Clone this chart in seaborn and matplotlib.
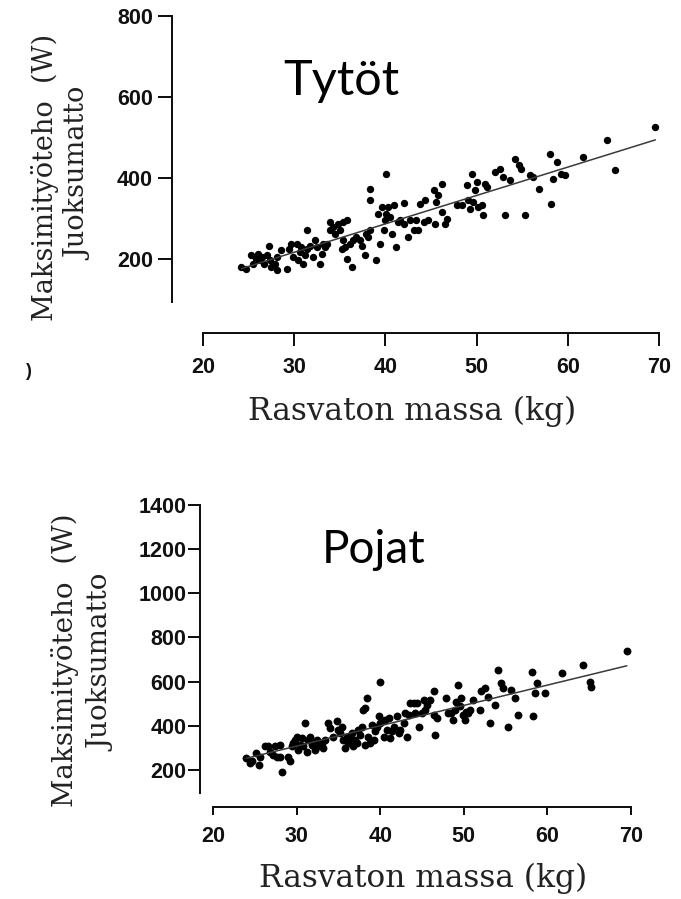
import matplotlib
matplotlib.use("Agg")
import matplotlib.pyplot as plt
import seaborn as sns
import pandas as pd

# ---------------- data ----------------
girls_mass = [24.2, 24.7, 25.3, 25.5, 25.8, 26.0, 26.2, 26.5, 26.7, 27.0, 27.2, 27.3, 27.5, 27.9,
              28.1, 28.1, 28.6, 29.2, 29.4, 29.7, 29.9, 30.3, 30.4, 30.6, 30.8, 31.0, 31.2, 31.4,
              31.4, 31.7, 32.1, 32.3, 32.5, 32.8, 33.0, 33.2, 33.4, 33.6, 33.9, 33.9, 34.3, 34.5,
              34.8, 35.0, 35.4, 35.8, 35.2, 35.6, 35.4, 35.8, 36.1, 36.3, 36.5, 36.8, 37.2, 37.4,
              37.8, 37.9, 38.1, 38.3, 38.3, 38.3, 39.0, 39.2, 39.4, 39.6, 39.8, 40.0, 40.1, 40.1,
              40.3, 40.5, 40.7, 40.9, 41.2, 41.4, 41.6, 42.0, 42.0, 42.5, 42.7, 43.1, 43.4, 43.6,
              43.8, 44.2, 44.3, 44.7, 45.3, 45.4, 45.6, 45.8, 46.2, 46.2, 46.5, 46.7, 47.8, 48.4,
              48.9, 49.1, 49.3, 49.5, 49.6, 49.8, 50.0, 50.2, 50.6, 50.7, 50.9, 51.1, 52.0, 52.6,
              52.9, 53.1, 53.7, 54.2, 54.6, 54.9, 55.3, 55.9, 56.2, 56.8, 58.0, 58.2, 58.4, 58.8,
              59.3, 59.7, 61.7, 64.3, 65.2, 69.6]
girls_power = [181, 177, 210, 189, 202, 214, 198, 206, 189, 210, 234, 198, 181, 189,
               173, 206, 222, 177, 226, 239, 206, 239, 198, 218, 230, 189, 210, 272,
               226, 234, 206, 247, 230, 189, 214, 239, 230, 239, 292, 272, 280, 263,
               288, 272, 292, 296, 226, 230, 247, 202, 239, 181, 247, 255, 247, 234,
               210, 263, 255, 374, 346, 272, 198, 313, 239, 329, 272, 296, 411, 313,
               329, 304, 263, 333, 230, 292, 296, 339, 288, 255, 296, 272, 296, 272,
               337, 292, 346, 296, 370, 288, 341, 358, 387, 317, 288, 300, 333, 333,
               383, 346, 325, 411, 341, 370, 391, 329, 333, 309, 387, 379, 416, 424,
               403, 309, 395, 448, 432, 424, 309, 407, 403, 374, 461, 337, 399, 440,
               411, 407, 453, 494, 420, 527]

boys_mass = [24.0, 24.4, 24.7, 25.2, 25.5, 25.6, 26.2, 26.6, 26.8, 27.2, 27.4, 27.6, 28.0, 28.2,
             28.0, 29.0, 29.2, 29.4, 29.6, 29.8, 30.0, 30.2, 30.4, 30.6, 30.8, 31.0, 31.2, 31.4,
             31.6, 31.8, 32.0, 32.2, 32.4, 32.6, 33.0, 33.2, 33.4, 33.8, 34.0, 34.4, 34.8, 35.0,
             35.2, 35.4, 35.6, 35.8, 36.0, 36.2, 36.4, 36.6, 36.8, 37.0, 37.2, 37.4, 37.6, 37.8,
             38.0, 38.2, 38.4, 38.2, 38.6, 38.8, 39.0, 39.2, 39.4, 39.6, 39.8, 40.0, 40.0, 40.4,
             40.6, 40.8, 41.0, 41.2, 41.4, 41.6, 42.0, 42.2, 42.4, 42.8, 43.0, 43.2, 43.4, 43.6,
             44.0, 44.2, 44.4, 44.6, 45.0, 45.2, 45.4, 45.6, 46.0, 46.4, 46.4, 46.6, 46.8, 47.9,
             48.1, 48.5, 48.7, 48.9, 49.1, 49.3, 49.5, 49.7, 49.9, 50.1, 50.3, 50.5, 50.7, 51.1,
             51.9, 52.1, 52.5, 52.9, 53.1, 53.7, 54.1, 54.5, 54.7, 55.3, 55.7, 56.1, 56.5, 58.1,
             58.3, 58.5, 58.7, 59.7, 61.7, 64.3, 65.1, 65.2, 69.5]
boys_power = [253, 230, 238, 275, 223, 260, 306, 306, 283, 268, 306, 260, 313, 192,
              260, 260, 238, 306, 321, 336, 351, 291, 313, 343, 306, 411, 283, 336,
              351, 313, 328, 291, 336, 306, 321, 298, 336, 411, 389, 351, 419, 381,
              366, 396, 336, 298, 351, 321, 343, 366, 306, 336, 321, 381, 359, 396,
              472, 479, 525, 313, 351, 321, 404, 336, 374, 396, 442, 600, 411, 351,
              426, 381, 434, 343, 374, 396, 442, 366, 381, 411, 457, 351, 449, 502,
              502, 457, 502, 396, 457, 517, 472, 494, 517, 555, 449, 359, 434, 525,
              457, 457, 426, 472, 509, 585, 487, 525, 449, 426, 464, 457, 472, 517,
              472, 555, 570, 532, 411, 494, 653, 593, 570, 396, 562, 525, 449, 645,
              442, 547, 593, 547, 638, 676, 600, 577, 740]

x_ticks = [20, 30, 40, 50, 60, 70]
girls_y_ticks = [200, 400, 600, 800]
boys_y_ticks = [200, 400, 600, 800, 1000, 1200, 1400]
girls_title = "Tytöt"
boys_title = "Pojat"
x_label = "Rasvaton massa (kg)"
y_label_1 = "Maksimityöteho  (W)"
y_label_2 = "Juoksumatto"

girls = pd.DataFrame({"mass": girls_mass, "power": girls_power})
boys = pd.DataFrame({"mass": boys_mass, "power": boys_power})

# ---------------- styling ----------------
sns.set_theme(style="white")
plt.rcParams["font.family"] = ["DejaVu Sans"]

W, H = 681, 899
PT = 72 / 100.0
fig = plt.figure(figsize=(W / 100, H / 100), dpi=100)
fig.patch.set_facecolor("white")


def px_axes(l, t, r, b):
    return fig.add_axes([l / W, 1 - b / H, (r - l) / W, (b - t) / H])


def ftext(x, y, s, **kw):
    fig.text(x / W, 1 - y / H, s, **kw)


INK = "#111111"
tick_font = dict(family="Liberation Sans", weight="bold", size=15.5)


def style_axes(ax, xlim, ylim, yticks, left_off, bottom_off, ylen, xlen, ypad, xpad):
    ax.set_xlim(*xlim)
    ax.set_ylim(*ylim)
    ax.set_xticks(x_ticks)
    ax.set_yticks(yticks)
    ax.set_xlabel("")
    ax.set_ylabel("")
    ax.set_facecolor("none")
    for s in ("top", "right"):
        ax.spines[s].set_visible(False)
    for s in ("left", "bottom"):
        ax.spines[s].set_linewidth(2 * PT)
        ax.spines[s].set_color(INK)
    ax.spines["left"].set_position(("outward", left_off * PT))
    ax.spines["bottom"].set_position(("outward", bottom_off * PT))
    ax.tick_params(axis="y", direction="out", length=ylen * PT, width=2 * PT,
                   color=INK, pad=ypad * PT, left=True)
    ax.tick_params(axis="x", direction="out", length=xlen * PT, width=2 * PT,
                   color=INK, pad=xpad * PT, bottom=True)
    for lab in ax.get_xticklabels() + ax.get_yticklabels():
        lab.set_fontfamily(tick_font["family"])
        lab.set_fontweight(tick_font["weight"])
        lab.set_fontsize(tick_font["size"])
        lab.set_color(INK)
    ax.grid(False)


# ---------------- top: girls ----------------
ax1 = px_axes(203, 16, 659, 302)
sns.regplot(data=girls, x="mass", y="power", ax=ax1, ci=None, color="black",
            scatter_kws=dict(s=28, linewidths=0, alpha=1),
            line_kws=dict(color="#3a3a3a", lw=1.1))
style_axes(ax1, (20, 70), (95, 800), girls_y_ticks,
           left_off=31, bottom_off=30.5, ylen=14, xlen=13, ypad=5, xpad=11)

# ---------------- bottom: boys ----------------
ax2 = px_axes(213, 505, 631, 793)
sns.regplot(data=boys, x="mass", y="power", ax=ax2, ci=None, color="black",
            scatter_kws=dict(s=32, linewidths=0, alpha=1),
            line_kws=dict(color="#3a3a3a", lw=1.1))
style_axes(ax2, (20, 70), (95, 1400), boys_y_ticks,
           left_off=13, bottom_off=14, ylen=12, xlen=8, ypad=1.5, xpad=11)

# ---------------- texts ----------------
ftext(283, 95, girls_title, fontsize=35, family="Lato", ha="left", va="baseline", color="black")
ftext(322, 563, boys_title, fontsize=33, family="Lato", ha="left", va="baseline", color="black")

serif = "DejaVu Serif"
ftext(45, 177.5, y_label_1, rotation=90, ha="center", va="center", fontsize=19.5,
      family=serif, color="#222222")
ftext(79, 174, y_label_2, rotation=90, ha="center", va="center", fontsize=19.5,
      family=serif, color="#222222")
ftext(65, 660, y_label_1, rotation=90, ha="center", va="center", fontsize=20,
      family=serif, color="#222222")
ftext(102, 663, y_label_2, rotation=90, ha="center", va="center", fontsize=20,
      family=serif, color="#222222")

ftext(412, 420, x_label, ha="center", va="baseline", fontsize=22.5, family=serif, color="#222222")
ftext(423, 887, x_label, ha="center", va="baseline", fontsize=22.5, family=serif, color="#222222")

# cropped fragment at the left edge of the source image
ftext(28, 372, ")", ha="center", va="center", fontsize=13, weight="bold",
      family="Liberation Sans", color=INK)

fig.savefig("out.png", dpi=100, facecolor="white")
